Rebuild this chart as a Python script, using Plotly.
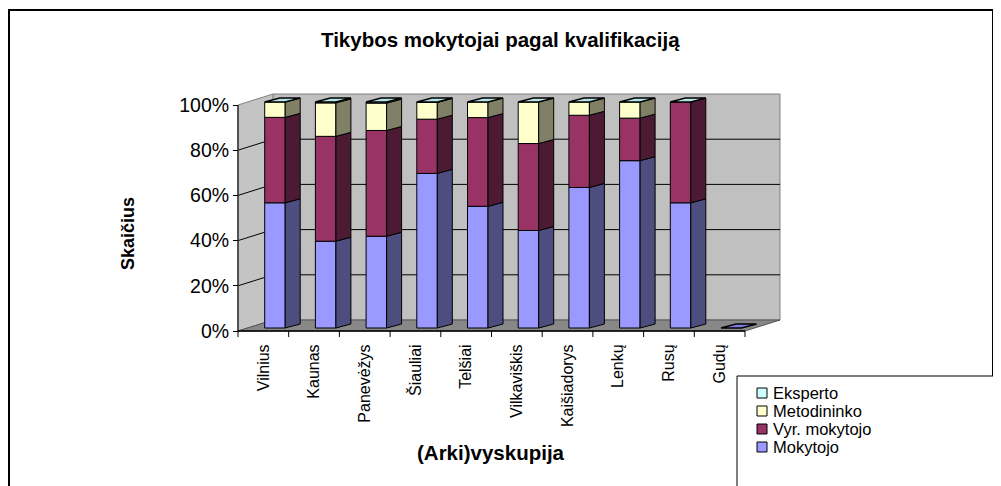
import plotly.graph_objects as go

# ---------------- data (shares, %) ----------------
categories = ["Vilnius", "Kaunas", "Panevėžys", "Šiauliai", "Telšiai",
              "Vilkaviškis", "Kaišiadorys", "Lenkų", "Rusų", "Gudų"]
mokytojo = [55.4, 38.4, 40.6, 68.4, 53.9, 43.2, 62.5, 74.7, 55.4, 0]
vyr_mokytojo = [37.8, 46.4, 46.8, 24.0, 39.3, 38.5, 32.1, 19.0, 44.6, 0]
metodininko = [6.8, 14.8, 12.1, 7.4, 6.9, 18.4, 5.9, 7.2, 0, 0]
eksperto = [0, 0.4, 0.5, 0.2, 0, 0, 0, 0, 0, 0]
y_tick_values = [0, 20, 40, 60, 80, 100]
y_tick_labels = ["0%", "20%", "40%", "60%", "80%", "100%"]

series = [
    ("Mokytojo", mokytojo, "#9999FF", "#4D4D80"),
    ("Vyr. mokytojo", vyr_mokytojo, "#993366", "#4D1A33"),
    ("Metodininko", metodininko, "#FFFFCC", "#808066"),
    ("Eksperto", eksperto, "#CCFFFF", "#668080"),
]

# ---------------- geometry (page body has an 8px margin) ----------------
S = 8
W, H = 1001 - S, 486 - S
FONT = "Liberation Sans, Arial, sans-serif"
PX_LEFT, PX_PER_CAT = 238.0 - S, 50.7
PX_BOTTOM, PX_PER_PCT = 331.0 - S, 2.26
DX, DY = 35 / PX_PER_CAT, 11 / PX_PER_PCT      # wall depth
FX, FY = 11.6 / PX_PER_CAT, 3 / PX_PER_PCT     # bar front face offset
BW = 20.5 / PX_PER_CAT                          # bar front width
SDX, SDY = 15 / PX_PER_CAT, 4 / PX_PER_PCT     # bar side depth


def px(x):
    return (x - S) / W


def py(y):
    return 1 - (y - S) / H


n = len(categories)
xrange = [-PX_LEFT / PX_PER_CAT, (W - PX_LEFT) / PX_PER_CAT]
yrange = [-(H - PX_BOTTOM) / PX_PER_PCT, PX_BOTTOM / PX_PER_PCT]

totals = [sum(s[1][i] for s in series) for i in range(n)]
pct = {name: [v / t * 100 if t else 0 for v, t in zip(vals, totals)]
       for name, vals, _, _ in series}

fig = go.Figure()

cum = [0.0] * n
centers = [i + 0.5 + FX for i in range(n)]
side_traces = []
for name, vals, color, side in series:
    p = pct[name]
    bases = [c + FY for c in cum]
    fig.add_trace(go.Bar(
        x=centers, y=[v if v > 0 else None for v in p], base=bases, width=BW,
        name=name, marker=dict(color=color, line=dict(color="black", width=1)),
        hoverinfo="skip", showlegend=False))
    sx, sy = [], []
    for i in range(n):
        if p[i] <= 0:
            continue
        xr = centers[i] + BW / 2
        b, t = bases[i], bases[i] + p[i]
        sx += [xr, xr + SDX, xr + SDX, xr, xr, None]
        sy += [b, b + SDY, t + SDY, t, b, None]
    side_traces.append(go.Scatter(x=sx, y=sy, mode="lines", fill="toself",
                                  fillcolor=side, line=dict(color="black", width=1),
                                  showlegend=False, hoverinfo="skip"))
    cum = [c + v for c, v in zip(cum, p)]
for tr in side_traces:
    fig.add_trace(tr)

# top faces
for full, col in ((True, "#B4E4E4"), (False, "#7B7BE0")):
    tx, ty = [], []
    for i in range(n):
        if (totals[i] > 0) != full:
            continue
        T = cum[i] + FY
        xl, xr = centers[i] - BW / 2, centers[i] + BW / 2
        tx += [xl, xr, xr + SDX, xl + SDX, xl, None]
        ty += [T, T, T + SDY, T + SDY, T, None]
    fig.add_trace(go.Scatter(x=tx, y=ty, mode="lines", fill="toself", fillcolor=col,
                             line=dict(color="black", width=1.3),
                             showlegend=False, hoverinfo="skip"))

# ---------------- walls, floor, gridlines ----------------
shapes = []
top = y_tick_values[-1]
shapes.append(dict(type="rect", xref="x", yref="y", x0=DX, x1=n + DX, y0=DY, y1=top + DY,
                   fillcolor="#C0C0C0", line=dict(color="#808080", width=1), layer="below"))
shapes.append(dict(type="path", xref="x", yref="y",
                   path=f"M0,0 L{DX},{DY} L{DX},{top + DY} L0,{top} Z",
                   fillcolor="#C4C4C4", line=dict(color="#808080", width=1), layer="below"))
shapes.append(dict(type="path", xref="x", yref="y",
                   path=f"M0,0 L{n},0 L{n + DX},{DY} L{DX},{DY} Z",
                   fillcolor="#888888", line=dict(color="#555555", width=1), layer="below"))
for v in y_tick_values[1:-1]:
    shapes.append(dict(type="line", xref="x", yref="y", x0=DX, x1=n + DX, y0=v + DY, y1=v + DY,
                       line=dict(color="black", width=1), layer="below"))
    shapes.append(dict(type="line", xref="x", yref="y", x0=0, x1=DX, y0=v, y1=v + DY,
                       line=dict(color="black", width=1), layer="below"))
shapes.append(dict(type="line", xref="x", yref="y", x0=0, x1=0, y0=0, y1=top,
                   line=dict(color="#333333", width=1.5), layer="below"))
shapes.append(dict(type="line", xref="x", yref="y", x0=0, x1=n, y0=0, y1=0,
                   line=dict(color="black", width=1.5), layer="below"))
for k in range(n + 1):
    shapes.append(dict(type="line", xref="x", yref="y", x0=k, x1=k, y0=0, y1=-6 / PX_PER_PCT,
                       line=dict(color="black", width=1), layer="below"))

# chart border and legend box
shapes.append(dict(type="rect", xref="paper", yref="paper", x0=px(9), x1=px(993),
                   y0=py(500), y1=py(10), line=dict(color="black", width=2)))
shapes.append(dict(type="rect", xref="paper", yref="paper", x0=px(737), x1=px(1015),
                   y0=py(500), y1=py(376), fillcolor="white",
                   line=dict(color="black", width=1)))

annotations = [
    dict(text="<b>Tikybos mokytojai pagal kvalifikaciją</b>", xref="paper", yref="paper",
         x=px(500), y=py(40), xanchor="center", yanchor="middle", showarrow=False,
         font=dict(size=20.5, color="black", family=FONT)),
    dict(text="<b>Skaičius</b>", xref="paper", yref="paper", x=px(128), y=py(234),
         xanchor="center", yanchor="middle", textangle=-90, showarrow=False,
         font=dict(size=18, color="black", family=FONT)),
    dict(text="<b>(Arki)vyskupija</b>", xref="paper", yref="paper", x=px(491), y=py(452),
         xanchor="center", yanchor="middle", showarrow=False,
         font=dict(size=20.5, color="black", family=FONT)),
]

# legend (keys + labels), top entry first
legend_rows = [393, 411, 429, 447]
for (name, _, color, _), ry in zip(reversed(series), legend_rows):
    shapes.append(dict(type="rect", xref="paper", yref="paper", x0=px(757), x1=px(767),
                       y0=py(ry + 5), y1=py(ry - 5), fillcolor=color,
                       line=dict(color="black", width=1)))
    annotations.append(dict(text=name, xref="paper", yref="paper", x=px(771), y=py(ry),
                            xanchor="left", yanchor="middle", showarrow=False,
                            font=dict(size=16.5, color="black", family=FONT)))

fig.update_layout(
    width=W, height=H, margin=dict(l=0, r=0, t=0, b=0),
    paper_bgcolor="white", plot_bgcolor="white", barmode="overlay",
    font=dict(family=FONT, color="black"), showlegend=False,
    xaxis=dict(range=xrange, domain=[0, 1], anchor="free", position=1 - PX_BOTTOM / H,
               tickvals=[i + 0.5 for i in range(n)], ticktext=categories, tickangle=-90,
               ticks="outside", ticklen=6, tickcolor="rgba(0,0,0,0)",
               showgrid=False, zeroline=False, showline=False,
               tickfont=dict(size=16, family=FONT, color="black")),
    yaxis=dict(range=yrange, domain=[0, 1], anchor="free", position=PX_LEFT / W,
               tickvals=y_tick_values, ticktext=y_tick_labels,
               ticks="outside", ticklen=5, tickcolor="black",
               showgrid=False, zeroline=False, showline=False,
               tickfont=dict(size=19.5, family=FONT, color="black")),
    shapes=shapes, annotations=annotations,
)

fig.write_html("out.html")
